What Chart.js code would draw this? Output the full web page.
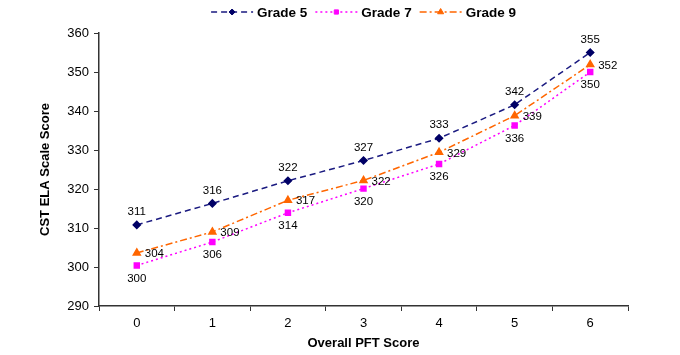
<!DOCTYPE html>
<html>
<head>
<meta charset="utf-8">
<script src="https://cdn.jsdelivr.net/npm/chart.js@4/dist/chart.umd.min.js"></script>
<style>
html,body{margin:0;padding:0;background:#fff;}
#wrap{width:680px;height:355px;}
</style>
</head>
<body>
<div id="wrap"><canvas id="c" width="680" height="355"></canvas></div>
<script>
const categories = ['0','1','2','3','4','5','6'];
const grade5 = [310.8, 316.3, 322.1, 327.3, 333.0, 341.6, 355.0];
const grade7 = [300.4, 306.4, 313.9, 320.1, 326.4, 336.3, 350.0];
const grade9 = [303.6, 309.0, 317.1, 322.2, 329.4, 338.8, 351.9];
const seriesNames = ['Grade 5', 'Grade 7', 'Grade 9'];
const yMin = 290, yMax = 360, yStep = 10;

const FONT = "'Liberation Sans', Arial, sans-serif";

const dataLabelPlugin = {
  id: 'dataLabels',
  afterDatasetsDraw(chart) {
    const ctx = chart.ctx;
    ctx.save();
    ctx.font = '11.5px ' + FONT;
    ctx.fillStyle = '#000';
    chart.data.datasets.forEach((ds, i) => {
      const meta = chart.getDatasetMeta(i);
      meta.data.forEach((pt, j) => {
        const txt = String(Math.round(ds.data[j]));
        const pos = ds.labelPos;
        if (pos === 'above') {
          ctx.textAlign = 'center'; ctx.textBaseline = 'middle';
          ctx.fillText(txt, pt.x, pt.y - 13);
        } else if (pos === 'below') {
          ctx.textAlign = 'center'; ctx.textBaseline = 'middle';
          ctx.fillText(txt, pt.x, pt.y + 13);
        } else {
          ctx.textAlign = 'left'; ctx.textBaseline = 'middle';
          ctx.fillText(txt, pt.x + 8, pt.y + 1);
        }
      });
    });
    ctx.restore();
  }
};

const legendPlugin = {
  id: 'customLegend',
  afterDraw(chart) {
    const ctx = chart.ctx;
    ctx.save();
    ctx.font = 'bold 13.5px ' + FONT;
    const sample = 42, gapText = 4, gapItem = 8;
    const items = chart.data.datasets.map(ds => ({ds, w: ctx.measureText(ds.label).width}));
    let total = 0;
    items.forEach((it, k) => { total += sample + gapText + it.w + (k < items.length - 1 ? gapItem : 0); });
    const ca = chart.chartArea;
    let x = (ca.left + ca.right) / 2 - total / 2;
    const y = 12;
    items.forEach((it) => {
      const ds = it.ds;
      ctx.save();
      ctx.strokeStyle = ds.borderColor;
      ctx.lineWidth = ds.borderWidth;
      ctx.setLineDash(ds.borderDash);
      ctx.beginPath();
      ctx.moveTo(x, y); ctx.lineTo(x + sample, y);
      ctx.stroke();
      ctx.restore();
      ctx.save();
      ctx.fillStyle = ds.pointBackgroundColor;
      ctx.strokeStyle = ds.pointBackgroundColor;
      Chart.helpers.drawPoint(ctx, {
        pointStyle: ds.pointStyle, radius: ds.pointRadius - 0.5, rotation: 0, borderWidth: 1
      }, x + sample / 2, y);
      ctx.restore();
      ctx.fillStyle = '#000';
      ctx.textAlign = 'left'; ctx.textBaseline = 'middle';
      ctx.fillText(ds.label, x + sample + gapText, y + 1);
      x += sample + gapText + it.w + gapItem;
    });
    ctx.restore();
  }
};

new Chart(document.getElementById('c'), {
  type: 'line',
  data: {
    labels: categories,
    datasets: [
      {
        label: seriesNames[0], data: grade5,
        borderColor: '#1a1a80', backgroundColor: '#000066',
        pointBackgroundColor: '#000066', pointBorderColor: '#000066',
        borderWidth: 1.5, borderDash: [6, 4], pointStyle: 'rectRot', pointRadius: 3.5,
        tension: 0, fill: false, labelPos: 'above'
      },
      {
        label: seriesNames[1], data: grade7,
        borderColor: '#ff00ff', backgroundColor: '#ff00ff',
        pointBackgroundColor: '#ff00ff', pointBorderColor: '#ff00ff',
        borderWidth: 1.5, borderDash: [2, 3], pointStyle: 'rect', pointRadius: 3.5,
        tension: 0, fill: false, labelPos: 'below'
      },
      {
        label: seriesNames[2], data: grade9,
        borderColor: '#ff6600', backgroundColor: '#ff6600',
        pointBackgroundColor: '#ff6600', pointBorderColor: '#ff6600',
        borderWidth: 1.5, borderDash: [7, 3, 2, 3], pointStyle: 'triangle', pointRadius: 4,
        tension: 0, fill: false, labelPos: 'right'
      }
    ]
  },
  options: {
    responsive: false,
    animation: false,
    devicePixelRatio: 1,
    layout: { padding: { top: 33, right: 52, left: 38, bottom: 0 } },
    plugins: { legend: { display: false }, tooltip: { enabled: false } },
    scales: {
      x: {
        offset: true,
        grid: { display: true, offset: true, drawOnChartArea: false, tickLength: 5, color: '#333', lineWidth: 1 },
        border: { display: true, color: '#333', width: 1.5 },
        ticks: { color: '#000', font: { family: FONT, size: 13 }, padding: 5, maxRotation: 0 },
        title: { display: true, text: 'Overall PFT Score', color: '#000', font: { family: FONT, size: 13, weight: 'bold' }, padding: { top: 1 } },
        afterFit(s) { s.height = 49; }
      },
      y: {
        min: yMin, max: yMax,
        ticks: { stepSize: yStep, color: '#000', font: { family: FONT, size: 13 }, padding: 5 },
        grid: { display: true, drawOnChartArea: false, tickLength: 5, color: '#333' },
        border: { display: true, color: '#333', width: 1.5 },
        title: { display: true, text: 'CST ELA Scale Score', color: '#000', font: { family: FONT, size: 13, weight: 'bold' }, padding: { bottom: 0, top: 0 } },
        afterFit(s) { s.width = 61; }
      }
    }
  },
  plugins: [dataLabelPlugin, legendPlugin]
});
</script>
</body>
</html>
